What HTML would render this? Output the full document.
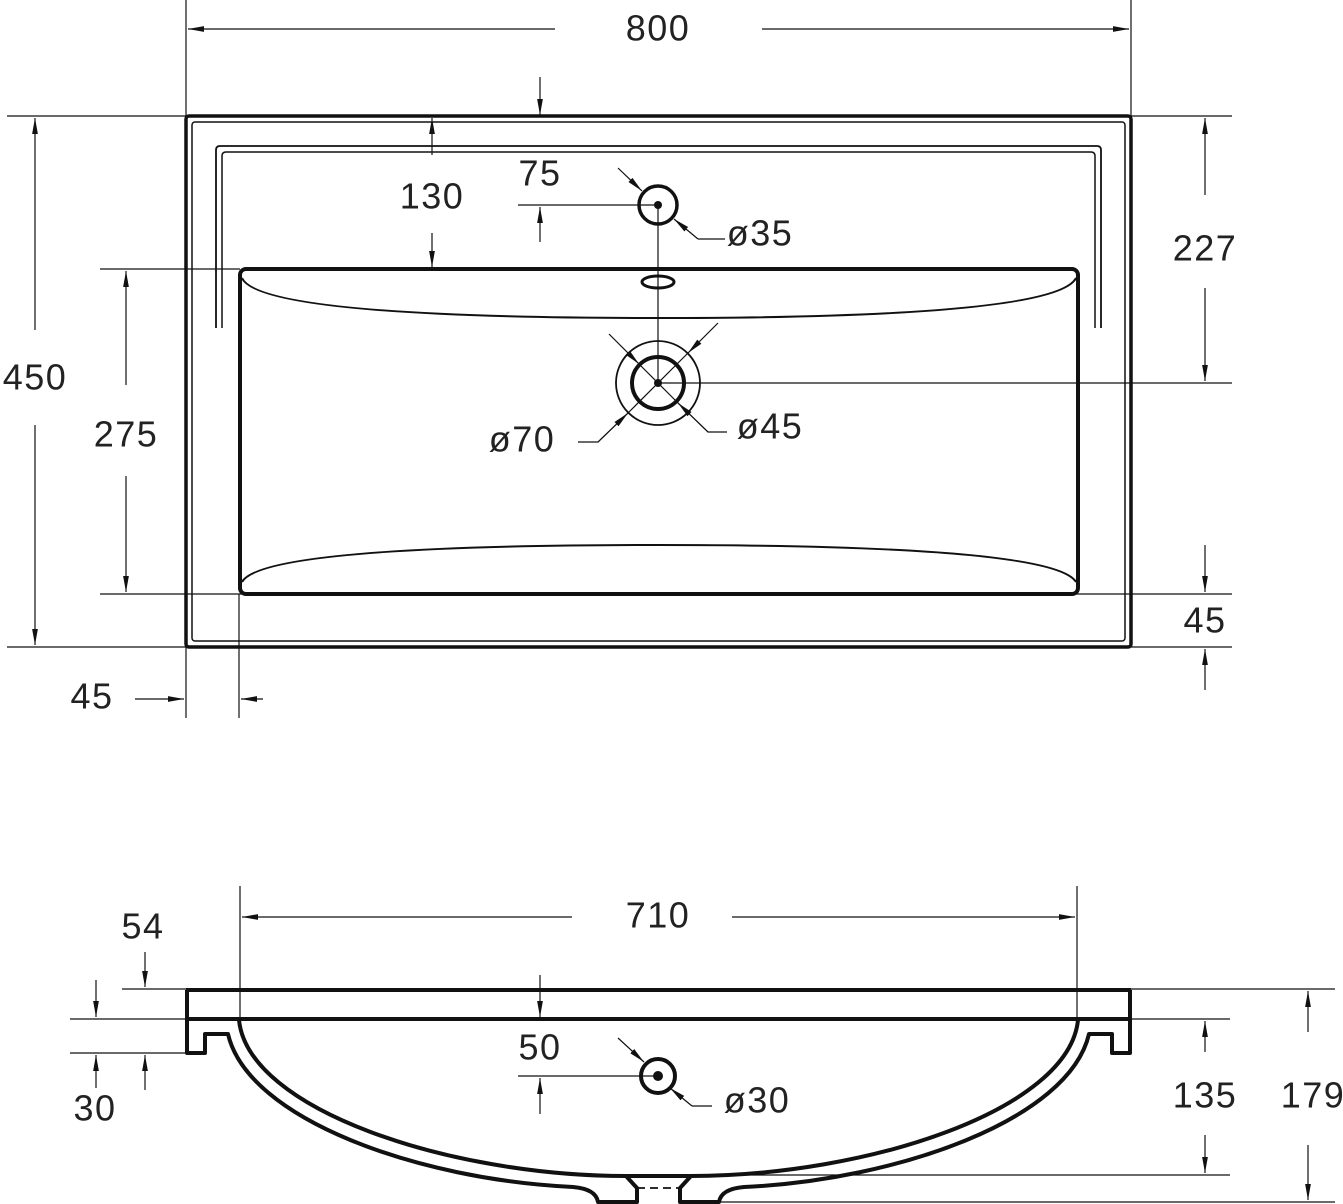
<!DOCTYPE html>
<html><head><meta charset="utf-8"><style>
html,body{margin:0;padding:0;background:#fff}
svg{display:block}
text{font-family:"Liberation Sans",sans-serif;font-size:36px;letter-spacing:1.5px;fill:#222;text-anchor:middle;dominant-baseline:middle}
</style></head><body>
<svg width="1343" height="1204" viewBox="0 0 1343 1204" xmlns="http://www.w3.org/2000/svg">
<defs>
<marker id="b" viewBox="0 0 10 10" refX="10" refY="5" markerWidth="16" markerHeight="16" markerUnits="userSpaceOnUse" orient="auto"><path d="M0,3.2 L10,5 L0,6.8z" fill="#111"/></marker>
</defs>
<g fill="none" stroke="#111">
<rect x="186" y="116" width="945" height="531" rx="3" stroke-width="3.5"/>
<rect x="192" y="122" width="933" height="519" rx="3" stroke-width="1.5"/>
<path d="M216,328 V150 Q216,146 220,146 H1097 Q1101,146 1101,150 V328" stroke-width="1.8"/>
<path d="M222,328 V156 Q222,152 226,152 H1091 Q1095,152 1095,156 V328" stroke-width="1.5"/>
<rect x="240" y="269" width="838" height="325" rx="6" fill="#fff" stroke-width="4"/>
<path d="M242,278 Q260,318 658,318 Q1056,318 1076,278" stroke-width="2"/>
<path d="M242,582 Q262,545 658,545 Q1054,545 1076,582" stroke-width="2"/>
<circle cx="658" cy="205" r="19" stroke-width="3.5"/>
<ellipse cx="658" cy="282" rx="16" ry="6" stroke-width="3"/>
<circle cx="658" cy="383" r="26" stroke-width="4"/>
<circle cx="658" cy="383" r="42" stroke-width="1.8"/>
<g stroke-width="1.2">
<line x1="658" y1="205" x2="658" y2="383"/>
<line x1="658" y1="383" x2="1232" y2="383"/>
<line x1="518" y1="205" x2="658" y2="205"/>
<line x1="618" y1="168" x2="642" y2="191" marker-end="url(#b)"/>
<line x1="698" y1="239" x2="674" y2="219" marker-end="url(#b)"/>
<polyline points="725,239 698,239"/>
<line x1="609" y1="334" x2="639" y2="364" marker-end="url(#b)"/>
<line x1="639" y1="364" x2="677" y2="402"/>
<polyline points="727,432 708,432 677,402" />
<line x1="708" y1="432" x2="678" y2="403" marker-end="url(#b)"/>
<line x1="718" y1="323" x2="688" y2="353" marker-end="url(#b)"/>
<line x1="688" y1="353" x2="628" y2="413"/>
<polyline points="578,442 598,442 628,413"/>
<line x1="598" y1="442" x2="628" y2="413" marker-end="url(#b)"/>
<line x1="186" y1="0" x2="186" y2="116"/><line x1="1131" y1="0" x2="1131" y2="116"/>
<line x1="555" y1="29" x2="188" y2="29" marker-end="url(#b)"/>
<line x1="762" y1="29" x2="1129" y2="29" marker-end="url(#b)"/>
<line x1="540" y1="77" x2="540" y2="115" marker-end="url(#b)"/>
<line x1="7" y1="116" x2="186" y2="116"/><line x1="7" y1="647" x2="186" y2="647"/>
<line x1="35" y1="330" x2="35" y2="118" marker-end="url(#b)"/>
<line x1="35" y1="425" x2="35" y2="645" marker-end="url(#b)"/>
<line x1="100" y1="269" x2="240" y2="269"/><line x1="100" y1="594" x2="1232" y2="594"/>
<line x1="126" y1="385" x2="126" y2="271" marker-end="url(#b)"/>
<line x1="126" y1="476" x2="126" y2="592" marker-end="url(#b)"/>
<line x1="432" y1="155" x2="432" y2="118" marker-end="url(#b)"/>
<line x1="432" y1="233" x2="432" y2="267" marker-end="url(#b)"/>
<line x1="540" y1="242" x2="540" y2="207" marker-end="url(#b)"/>
<line x1="1131" y1="116" x2="1232" y2="116"/>
<line x1="1205" y1="195" x2="1205" y2="118" marker-end="url(#b)"/>
<line x1="1205" y1="288" x2="1205" y2="381" marker-end="url(#b)"/>
<line x1="1131" y1="647" x2="1232" y2="647"/>
<line x1="1205" y1="545" x2="1205" y2="592" marker-end="url(#b)"/>
<line x1="1205" y1="690" x2="1205" y2="649" marker-end="url(#b)"/>
<line x1="186" y1="647" x2="186" y2="718"/><line x1="239" y1="594" x2="239" y2="718"/>
<line x1="135" y1="699" x2="184" y2="699" marker-end="url(#b)"/>
<line x1="263" y1="699" x2="241" y2="699" marker-end="url(#b)"/>
</g>
<line x1="186" y1="990" x2="1131" y2="990" stroke-width="4"/>
<line x1="186" y1="1019" x2="1131" y2="1019" stroke-width="4"/>
<path d="M187,990 V1053 H205 V1034 H228 C248,1120 420,1180 573,1187 Q596,1189 598,1202 H637 V1188 L626,1176 C450,1176 248,1110 239,1020" stroke-width="4" stroke-linejoin="round"/>
<path d="M1130,990 V1053 H1112 V1034 H1089 C1069,1120 897,1180 744,1187 Q721,1189 719,1202 H680 V1188 L691,1176 C867,1176 1069,1110 1078,1020" stroke-width="4" stroke-linejoin="round"/>
<line x1="626" y1="1176" x2="691" y2="1176" stroke-width="4"/>
<line x1="637" y1="1188" x2="680" y2="1188" stroke-width="1.8" stroke-dasharray="8,5"/>
<circle cx="658" cy="1076" r="17" stroke-width="4"/>
<g stroke-width="1.2">
<line x1="240" y1="886" x2="240" y2="1020"/><line x1="1077" y1="886" x2="1077" y2="1020"/>
<line x1="572" y1="917" x2="242" y2="917" marker-end="url(#b)"/>
<line x1="732" y1="917" x2="1075" y2="917" marker-end="url(#b)"/>
<line x1="540" y1="975" x2="540" y2="1017" marker-end="url(#b)"/>
<line x1="518" y1="1076" x2="658" y2="1076"/>
<line x1="540" y1="1114" x2="540" y2="1078" marker-end="url(#b)"/>
<line x1="618" y1="1038" x2="644" y2="1062" marker-end="url(#b)"/>
<line x1="692" y1="1106" x2="670" y2="1088" marker-end="url(#b)"/>
<line x1="712" y1="1106" x2="692" y2="1106"/>
<line x1="122" y1="989" x2="186" y2="989"/>
<line x1="70" y1="1019" x2="186" y2="1019"/>
<line x1="70" y1="1053" x2="186" y2="1053"/>
<line x1="145" y1="952" x2="145" y2="987" marker-end="url(#b)"/>
<line x1="145" y1="1090" x2="145" y2="1055" marker-end="url(#b)"/>
<line x1="96" y1="980" x2="96" y2="1017" marker-end="url(#b)"/>
<line x1="96" y1="1088" x2="96" y2="1055" marker-end="url(#b)"/>
<line x1="1131" y1="1019" x2="1230" y2="1019"/>
<line x1="690" y1="1175" x2="1230" y2="1175"/>
<line x1="1205" y1="1052" x2="1205" y2="1021" marker-end="url(#b)"/>
<line x1="1205" y1="1135" x2="1205" y2="1173" marker-end="url(#b)"/>
<line x1="1131" y1="989" x2="1335" y2="989"/>
<line x1="720" y1="1202" x2="1335" y2="1202"/>
<line x1="1308" y1="1032" x2="1308" y2="991" marker-end="url(#b)"/>
<line x1="1308" y1="1145" x2="1308" y2="1200" marker-end="url(#b)"/>
</g>
</g>
<circle cx="658" cy="205" r="4" fill="#111"/>
<circle cx="658" cy="383" r="4" fill="#111"/>
<circle cx="658" cy="1076" r="5" fill="#111"/>
<text x="658" y="31">800</text>
<text x="35" y="380">450</text>
<text x="126" y="437">275</text>
<text x="432" y="199">130</text>
<text x="540" y="176">75</text>
<text x="760" y="236">ø35</text>
<text x="1205" y="251">227</text>
<text x="1205" y="623">45</text>
<text x="92" y="699">45</text>
<text x="770" y="429">ø45</text>
<text x="522" y="442">ø70</text>
<text x="658" y="918">710</text>
<text x="143" y="929">54</text>
<text x="95" y="1111">30</text>
<text x="540" y="1050">50</text>
<text x="757" y="1103">ø30</text>
<text x="1205" y="1098">135</text>
<text x="1313" y="1098">179</text>
</svg>
</body></html>
